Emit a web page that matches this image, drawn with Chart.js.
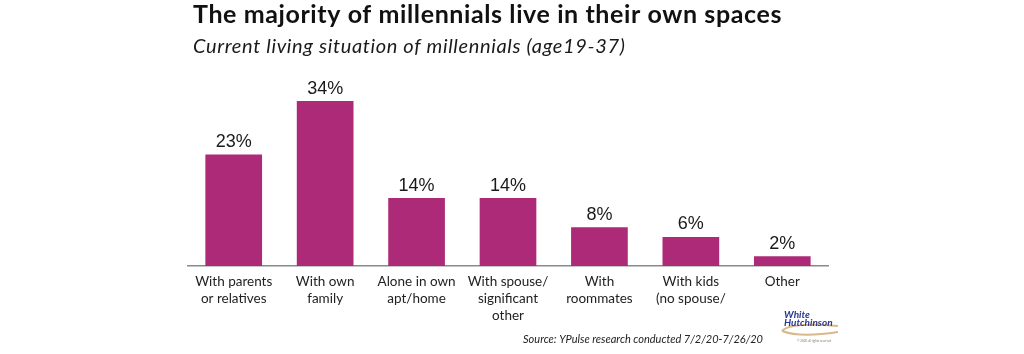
<!DOCTYPE html>
<html>
<head>
<meta charset="utf-8">
<script src="https://cdn.jsdelivr.net/npm/chart.js@4"></script>
<style>
  html, body { margin: 0; padding: 0; background: #fff; }
  canvas { display: block; }
</style>
</head>
<body>
<canvas id="chart" width="1024" height="354"></canvas>
<script>
const categories = [
  ["With parents", "or relatives"],
  ["With own", "family"],
  ["Alone in own", "apt/home"],
  ["With spouse/", "significant", "other"],
  ["With", "roommates"],
  ["With kids", "(no spouse/"],
  ["Other"],
];
const shares = [23, 34, 14, 14, 8, 6, 2];

const titleText = "The majority of millennials live in their own spaces";
const subtitleText = "Current living situation of millennials (age19-37)";
const sourceText = "Source: YPulse research conducted 7/2/20-7/26/20";

const barColour = "#ad2a78";

// percent labels above bars, plus title, source and logo text
const annotations = {
  id: "annotations",
  afterDatasetsDraw(chart) {
    const ctx = chart.ctx;
    const meta = chart.getDatasetMeta(0);
    ctx.save();
    ctx.fillStyle = "#1a1a1a";
    ctx.font = "18px 'Liberation Sans', Arial, sans-serif";
    ctx.textAlign = "center";
    ctx.textBaseline = "alphabetic";
    meta.data.forEach((bar, i) => {
      ctx.fillText(shares[i] + "%", bar.x, bar.y - 7.5);
    });
    ctx.restore();
  },
  afterDraw(chart) {
    const ctx = chart.ctx;
    ctx.save();
    ctx.textAlign = "left";
    ctx.textBaseline = "alphabetic";
    ctx.fillStyle = "#111";
    ctx.letterSpacing = "0.6px";
    ctx.font = "bold 25px Lato, sans-serif";
    ctx.fillText(titleText, 193, 23);
    ctx.fillStyle = "#1a1a1a";
    ctx.letterSpacing = "0.65px";
    ctx.font = "italic 20px Lato, sans-serif";
    ctx.fillText(subtitleText, 193, 53);
    ctx.letterSpacing = "0px";

    ctx.textAlign = "right";
    ctx.font = "italic 11px Lato, sans-serif";
    ctx.fillStyle = "#222";
    ctx.fillText(sourceText, 763, 343);

    // logo
    ctx.strokeStyle = "#d9b98c";
    ctx.lineWidth = 2;
    ctx.beginPath();
    ctx.moveTo(782, 331);
    ctx.quadraticCurveTo(790, 322, 838, 326);
    ctx.stroke();
    ctx.beginPath();
    ctx.moveTo(782, 331);
    ctx.quadraticCurveTo(800, 338, 838, 332);
    ctx.stroke();
    ctx.textAlign = "left";
    ctx.fillStyle = "#2b3990";
    ctx.font = "bold italic 10px Lato, sans-serif";
    ctx.fillText("White", 784, 318);
    ctx.fillText("Hutchinson", 784, 326);
    ctx.fillStyle = "#8a7a60";
    ctx.font = "3px Lato, sans-serif";
    ctx.fillText("© 2020 all rights reserved", 797, 342);
    ctx.restore();
  },
};

new Chart(document.getElementById("chart").getContext("2d"), {
  type: "bar",
  data: {
    labels: categories,
    datasets: [{
      data: shares,
      backgroundColor: barColour,
      borderWidth: 0,
      categoryPercentage: 1,
      barPercentage: 0.62,
    }],
  },
  options: {
    responsive: false,
    animation: false,
    layout: { padding: { left: 188, right: 196, top: 72, bottom: 0 } },
    plugins: {
      legend: { display: false },
      tooltip: { enabled: false },
    },
    scales: {
      y: { display: false, min: 0, max: 40 },
      x: {
        grid: { display: false, drawTicks: false },
        border: { display: true, color: "#8a8a8a", width: 1.5 },
        ticks: {
          color: "#222",
          padding: 7,
          maxRotation: 0,
          autoSkip: false,
          font: { family: "Lato, sans-serif", size: 13.5, lineHeight: 1.26 },
        },
        afterFit(scale) { scale.height = 88; },
      },
    },
  },
  plugins: [annotations],
});
</script>
</body>
</html>
